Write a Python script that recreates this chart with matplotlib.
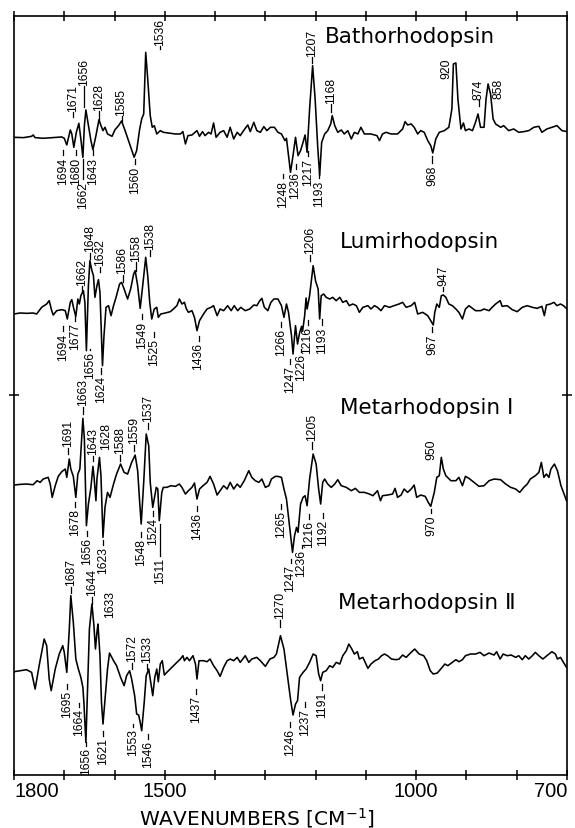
import numpy as np
import matplotlib
matplotlib.use("Agg")
import matplotlib.pyplot as plt

# FTIR difference spectra: (wavenumber cm-1, delta A in arbitrary units)
batho = np.array([
    (1800, 0), (1781, -1), (1765, 3), (1762, 7), (1758, -1), (1742, -3), (1722, -1), (1705, 1),
    (1700, -3), (1695, -23), (1688, 22), (1685, 10), (1681, -30), (1676, 15), (1671, 42), (1667, -5),
    (1663, -60), (1660, 35), (1657, 82), (1652, 35), (1647, -10), (1643, -37), (1637, 5), (1631, 53),
    (1627, 35), (1623, 20), (1619, 30), (1614, 10), (1605, 3), (1599, 23), (1592, 35), (1586, 49),
    (1579, 20), (1569, -25), (1561, -60), (1556, -40), (1550, 25), (1546, 55), (1542, 70), (1538, 255),
    (1534, 175), (1529, 65), (1525, 30), (1521, 35), (1516, 10), (1509, 20), (1503, 15), (1493, 13),
    (1479, 10), (1469, 10), (1464, 17), (1459, -20), (1454, 5), (1446, 7), (1436, 20), (1431, 3),
    (1425, 17), (1420, 5), (1413, 15), (1408, 10), (1403, 43), (1398, 0), (1390, 15), (1383, 20),
    (1376, 0), (1370, 30), (1363, -5), (1356, 15), (1350, 5), (1341, 25), (1335, 37), (1330, 17),
    (1323, 45), (1317, 20), (1310, 15), (1303, 32), (1297, 20), (1290, 30), (1282, 30), (1275, 15),
    (1268, 10), (1261, -10), (1258, -3), (1250, -105), (1245, -55), (1240, 0), (1235, -55), (1230, -40),
    (1225, -15), (1221, 7), (1217, -45), (1212, 85), (1206, 215), (1201, 115), (1196, -25), (1192, -115),
    (1188, -15), (1182, 10), (1176, 20), (1170, 40), (1167, 65), (1162, 35), (1156, 15), (1149, 22),
    (1143, 10), (1136, 20), (1129, -5), (1123, 15), (1116, 10), (1110, 30), (1103, 10), (1090, 10),
    (1078, 5), (1073, -10), (1067, 10), (1060, 15), (1050, 10), (1037, 10), (1027, 25), (1022, 47),
    (1017, 37), (1010, 40), (1004, 30), (997, 10), (991, 20), (984, 15), (977, -10), (971, -25),
    (967, -47), (961, -5), (954, 15), (944, 20), (935, 30), (929, 85), (926, 220), (921, 223),
    (917, 115), (911, 25), (906, 43), (902, 20), (895, 25), (888, 20), (882, 45), (877, 70),
    (872, 30), (865, 30), (861, 115), (857, 160), (852, 130), (847, 55), (842, 40), (832, 30),
    (826, 35), (816, 20), (806, 25), (796, 15), (786, 17), (776, 20), (766, 30), (756, 33),
    (750, 15), (740, 25), (730, 30), (720, 35), (710, 20), (700, 17),
])

lumi = np.array([
    (1800, -3), (1788, 0), (1775, -1), (1762, 0), (1755, -3), (1745, 17), (1735, 27), (1730, 37),
    (1725, 7), (1722, -6), (1715, 7), (1705, 10), (1698, 7), (1694, -18), (1688, 32), (1685, 40),
    (1681, 12), (1677, -10), (1673, 42), (1670, 27), (1667, 52), (1662, 67), (1659, 32), (1656, -113),
    (1652, 82), (1649, 157), (1645, 127), (1642, 112), (1639, 47), (1635, 82), (1632, 100), (1629, 62),
    (1624, -158), (1621, -68), (1617, 17), (1612, 22), (1607, -8), (1602, 22), (1597, 47), (1590, 87),
    (1586, 92), (1581, 72), (1574, 42), (1568, 72), (1562, 117), (1559, 127), (1554, 82), (1549, 14),
    (1544, 82), (1538, 167), (1534, 112), (1530, 32), (1526, -18), (1521, 12), (1516, 17), (1513, -13),
    (1508, -3), (1499, 0), (1489, 4), (1483, 12), (1476, 22), (1471, 42), (1466, 27), (1461, 32),
    (1457, 12), (1453, 2), (1446, 7), (1441, -13), (1436, -53), (1431, -23), (1423, -3), (1416, 12),
    (1408, 17), (1403, 22), (1396, -8), (1390, 12), (1383, 7), (1375, 22), (1368, 7), (1362, 22),
    (1355, 7), (1349, 17), (1340, 7), (1331, 12), (1323, 24), (1317, 22), (1311, 37), (1307, 44),
    (1302, 17), (1295, 7), (1289, 32), (1283, 42), (1275, 42), (1268, 22), (1263, -13), (1258, 27),
    (1254, 2), (1248, -68), (1245, -123), (1240, -38), (1236, -93), (1232, -60), (1228, -40), (1226, -55),
    (1222, -10), (1219, 45), (1217, 12), (1212, 52), (1205, 142), (1200, 95), (1195, 72), (1192, -18),
    (1189, 52), (1184, 57), (1179, 47), (1172, 42), (1166, 47), (1159, 37), (1152, 47), (1146, 32),
    (1139, 37), (1133, 22), (1126, 27), (1119, 22), (1113, 2), (1106, 17), (1096, 22), (1090, 12),
    (1083, 22), (1077, 17), (1070, 7), (1063, 22), (1053, 17), (1044, 22), (1034, 27), (1027, 32),
    (1020, 17), (1010, 22), (1003, 32), (997, -3), (987, 2), (977, -8), (971, -23), (966, -36),
    (963, 2), (959, 27), (954, 17), (950, 52), (946, 54), (941, 47), (935, 27), (928, 22),
    (921, 12), (915, 2), (908, -18), (902, 12), (895, 22), (888, 14), (882, 7), (872, 7),
    (865, 12), (855, 7), (849, 17), (842, 27), (833, 37), (829, 20), (819, 22), (809, 10),
    (799, 4), (789, 17), (779, 22), (769, 17), (759, 14), (750, 20), (745, -8), (741, 24),
    (733, 27), (726, 32), (720, 22), (713, 27), (707, 22), (700, 12),
])

meta1 = np.array([
    (1800, -1), (1788, 1), (1775, 2), (1762, 0), (1754, 12), (1748, 7), (1742, 17), (1732, 22),
    (1728, 2), (1724, -38), (1718, -3), (1712, 25), (1705, 39), (1698, 47), (1695, 22), (1690, 77),
    (1687, 47), (1682, 25), (1677, -38), (1673, 32), (1669, 47), (1663, 199), (1660, 137), (1656, -123),
    (1652, -58), (1647, -8), (1643, 55), (1641, 27), (1637, -48), (1635, 17), (1630, 82), (1627, 27),
    (1623, -158), (1619, -68), (1614, -23), (1609, -38), (1602, 2), (1596, 32), (1588, 62), (1581, 37),
    (1574, 32), (1566, 67), (1559, 89), (1554, 42), (1550, -53), (1547, -118), (1542, 7), (1537, 152),
    (1532, 117), (1529, 7), (1524, -68), (1520, -33), (1517, -8), (1514, -13), (1511, -108), (1506, -23),
    (1503, -8), (1496, -8), (1488, -3), (1479, -5), (1471, 2), (1466, -8), (1459, -28), (1453, -18),
    (1446, -8), (1441, 5), (1436, -43), (1431, -13), (1424, -3), (1416, 7), (1410, 25), (1403, 2),
    (1396, -31), (1390, -18), (1383, -3), (1376, -13), (1370, 7), (1363, -13), (1356, 2), (1350, -8),
    (1342, 12), (1333, 42), (1327, 22), (1320, 12), (1313, 7), (1307, 17), (1300, -8), (1293, -3),
    (1288, 17), (1280, 25), (1275, 25), (1268, 22), (1263, -13), (1258, -43), (1252, -123), (1246, -203),
    (1242, -153), (1238, -128), (1235, -143), (1230, -58), (1225, -38), (1221, -33), (1217, -63), (1212, 17),
    (1205, 92), (1199, 62), (1194, -13), (1190, -58), (1186, 7), (1182, 17), (1176, 2), (1169, -8),
    (1162, 2), (1156, 15), (1149, -3), (1139, -8), (1129, -18), (1121, -11), (1113, -23), (1103, -23),
    (1093, -28), (1086, -33), (1077, -18), (1071, -48), (1067, -33), (1057, -31), (1047, -28), (1042, -11),
    (1037, -38), (1030, -31), (1024, -13), (1017, -23), (1010, -13), (1004, -1), (999, -38), (991, -31),
    (982, -35), (976, -53), (971, -65), (964, -23), (959, 22), (954, 27), (950, 82), (946, 47),
    (941, 27), (931, 12), (921, 12), (915, 22), (908, -3), (902, 25), (895, 19), (885, 7),
    (875, -5), (865, -3), (855, 12), (845, 17), (832, 15), (822, 2), (812, -8), (802, -13),
    (794, -23), (786, -8), (779, 2), (773, 17), (763, 27), (756, 37), (751, 67), (746, 22),
    (741, 32), (736, 22), (732, 47), (725, 62), (719, 42), (712, -3), (707, -23), (701, -48),
])

meta2 = np.array([
    (1800, -3), (1788, 0), (1775, 3), (1765, -5), (1758, -55), (1750, 15), (1740, 95), (1735, 75),
    (1730, -25), (1726, -60), (1718, 5), (1710, 50), (1703, 75), (1700, 55), (1695, -5), (1690, 125),
    (1687, 225), (1682, 145), (1677, 35), (1672, 5), (1667, -20), (1663, -50), (1661, -95), (1657, -215),
    (1654, -65), (1650, 125), (1645, 200), (1641, 135), (1638, 65), (1635, 115), (1633, 140), (1629, 45),
    (1626, -95), (1623, -160), (1619, -85), (1614, 5), (1610, 53), (1602, 30), (1596, 15), (1588, -20),
    (1581, -45), (1576, -15), (1570, 0), (1566, -25), (1560, -75), (1556, -130), (1552, -133), (1549, -155),
    (1546, -180), (1541, -95), (1537, -15), (1532, 5), (1529, -25), (1524, -75), (1520, -20), (1516, 5),
    (1513, -33), (1509, 20), (1505, 30), (1501, -13), (1496, -5), (1486, 10), (1476, 25), (1469, 35),
    (1464, 45), (1461, 30), (1456, 40), (1451, 30), (1444, 45), (1439, 20), (1436, -25), (1432, 30),
    (1423, 30), (1416, 27), (1410, 35), (1403, 15), (1396, 0), (1390, -17), (1383, 10), (1376, 30),
    (1370, 35), (1363, 30), (1356, 40), (1350, 25), (1345, 35), (1340, 45), (1333, 25), (1327, 35),
    (1317, 40), (1310, 30), (1300, 13), (1291, 35), (1283, 40), (1278, 50), (1270, 105), (1263, 65),
    (1256, -15), (1250, -85), (1245, -133), (1240, -100), (1236, -90), (1232, -20), (1225, -5), (1219, 5),
    (1212, 25), (1205, 50), (1199, 45), (1194, -10), (1190, -30), (1186, -5), (1179, 0), (1172, 15),
    (1166, 10), (1159, 25), (1152, 20), (1146, 45), (1139, 60), (1134, 80), (1128, 65), (1123, 50),
    (1117, 57), (1113, 35), (1106, 40), (1096, 7), (1090, 20), (1082, 30), (1075, 35), (1069, 45),
    (1063, 50), (1057, 45), (1049, 35), (1040, 33), (1034, 35), (1027, 47), (1020, 40), (1010, 55),
    (1003, 65), (994, 50), (985, 45), (979, 30), (972, 0), (966, -10), (958, -7), (950, 7),
    (943, 20), (937, 15), (928, 25), (921, 33), (915, 27), (908, 33), (902, 45), (892, 50),
    (882, 50), (873, 55), (865, 45), (855, 53), (845, 47), (840, 57), (833, 35), (827, 50),
    (819, 45), (811, 47), (802, 40), (796, 45), (789, 33), (783, 45), (776, 35), (769, 45),
    (763, 55), (756, 45), (748, 35), (740, 45), (730, 57), (723, 50), (719, 35), (713, 40),
    (707, 25), (701, 10),
])

# band assignments: (text, x position, height of leader start above baseline, +1 up / -1 down, leader length)
batho_bands = [
    ("1694", 1702, -13, -1, 5), ("1680", 1677, -13, -1, 5), ("1662", 1663, -22, -1, 20),
    ("1643", 1642, -13, -1, 5), ("1560", 1559, -22, -1, 5), ("1248", 1265, -37, -1, 4),
    ("1236", 1240, -27, -1, 5), ("1217", 1215, -14, -1, 5), ("1193", 1193, -36, -1, 5),
    ("968", 968, -19, -1, 7),
    ("1671", 1682, 20, 1, 5), ("1656", 1660, 30, 1, 21), ("1628", 1630, 18, 1, 8),
    ("1585", 1586, 16, 1, 5), ("1536", 1510, 88, 1, 3), ("1207", 1207, 74, 1, 6),
    ("1168", 1170, 25, 1, 8), ("920", 939, 58, 1, 0), ("874", 876, 31, 1, 6), ("858", 837, 38, 1, 0),
]
lumi_bands = [
    ("1694", 1702, -13, -1, 5), ("1677", 1679, -3, -1, 5), ("1656", 1649, -36, -1, 1),
    ("1624", 1626, -55, -1, 6), ("1549", 1546, -1, -1, 5), ("1525", 1522, -19, -1, 5),
    ("1436", 1433, -23, -1, 5), ("1266", 1268, -9, -1, 5), ("1247", 1251, -46, -1, 5),
    ("1226", 1229, -36, -1, 3), ("1216", 1216, -7, -1, 5), ("1193", 1188, -6, -1, 6),
    ("967", 968, -14, -1, 5),
    ("1662", 1665, 22, 1, 5), ("1648", 1649, 54, 1, 6), ("1632", 1629, 41, 1, 5),
    ("1586", 1584, 31, 1, 7), ("1558", 1557, 42, 1, 9), ("1538", 1530, 57, 1, 6),
    ("1206", 1211, 52, 1, 6), ("947", 946, 22, 1, 4),
]
meta1_bands = [
    ("1678", 1679, -17, -1, 5), ("1656", 1654, -46, -1, 5), ("1623", 1622, -55, -1, 5),
    ("1548", 1548, -47, -1, 5), ("1524", 1523, -26, -1, 5), ("1511", 1510, -39, -1, 32),
    ("1436", 1435, -21, -1, 5), ("1265", 1268, -19, -1, 5), ("1247", 1250, -74, -1, 4),
    ("1236", 1228, -60, -1, 3), ("1216", 1213, -29, -1, 5), ("1192", 1185, -28, -1, 5),
    ("970", 970, -24, -1, 4),
    ("1691", 1692, 31, 1, 6), ("1663", 1663, 71, 1, 7), ("1643", 1643, 24, 1, 5),
    ("1628", 1617, 34, 1, 0), ("1588", 1589, 24, 1, 6), ("1559", 1561, 34, 1, 6),
    ("1537", 1533, 56, 1, 6), ("1205", 1208, 36, 1, 7), ("950", 970, 24, 1, 0),
]
meta2_bands = [
    ("1695", 1695, -13, -1, 5), ("1664", 1670, -32, -1, 4), ("1656", 1657, -71, -1, 4),
    ("1621", 1622, -60, -1, 5), ("1553", 1563, -53, -1, 3), ("1546", 1533, -63, -1, 5),
    ("1437", 1437, -18, -1, 5), ("1246", 1251, -51, -1, 5), ("1237", 1221, -31, -1, 5),
    ("1191", 1188, -13, -1, 6),
    ("1687", 1687, 78, 1, 6), ("1644", 1645, 67, 1, 7), ("1633", 1609, 52, 1, 0),
    ("1572", 1566, 2, 1, 6), ("1533", 1535, 2, 1, 5), ("1270", 1271, 44, 1, 7),
]

names = ["Bathorhodopsin", "Lumirhodopsin", "Metarhodopsin \u2160", "Metarhodopsin \u2161"]
spectra = [batho, lumi, meta1, meta2]
bands = [batho_bands, lumi_bands, meta1_bands, meta2_bands]

# layout (plot units = pixels of the original figure)
offsets = [637.7, 462.0, 290.3, 104.3]
title_pos = [(1181, 101), (1152, 72), (1152, 78), (1155, 69)]
scale = 1 / 3.0
num_font = "Liberation Sans"

fig = plt.figure(figsize=(5.75, 8.29), dpi=100)
ax = fig.add_axes([14 / 575, 53 / 829, 553 / 575, 759 / 829])

for spec, bl, off, name, tp in zip(spectra, bands, offsets, names, title_pos):
    ax.plot(spec[:, 0], off + spec[:, 1] * scale, color="black", lw=1.15)
    ax.text(tp[0], off + tp[1], name, fontsize=15.5, ha="left", va="center",
            family=["DejaVu Sans"])
    for txt, x, rel, sign, lead in bl:
        y0 = off + rel
        if lead > 0:
            ax.plot([x, x], [y0, y0 + sign * lead], color="black", lw=0.9)
        ax.text(x, y0 + sign * (lead + 1.5), txt, rotation=90, ha="center",
                va="bottom" if sign > 0 else "top", fontsize=8.7, family=num_font)

ax.set_xlim(1800, 700)
ax.set_ylim(0, 759)

ticks = list(range(1800, 699, -100))
ax.set_xticks(ticks)
ax.set_xticklabels([str(t) if t in (1800, 1500, 1000, 700) else "" for t in ticks],
                   fontsize=14.5, family=num_font)
labels = ax.get_xticklabels()
labels[0].set_ha("left")
labels[-1].set_ha("right")
ax.tick_params(axis="x", direction="inout", length=7, width=1.1, top=True, pad=0.8)
ax.set_yticks([380])
ax.tick_params(axis="y", direction="inout", length=7, width=1.1, left=True, right=True,
               labelleft=False)
for sp in ax.spines.values():
    sp.set_linewidth(1.2)

ax.set_xlabel("WAVENUMBERS [CM$^{-1}$]", fontsize=14.5)
ax.xaxis.label.set_va("baseline")
ax.xaxis.set_label_coords((257 - 14) / 553, (776 - 825) / 759)

fig.savefig("out.png", dpi=100)
